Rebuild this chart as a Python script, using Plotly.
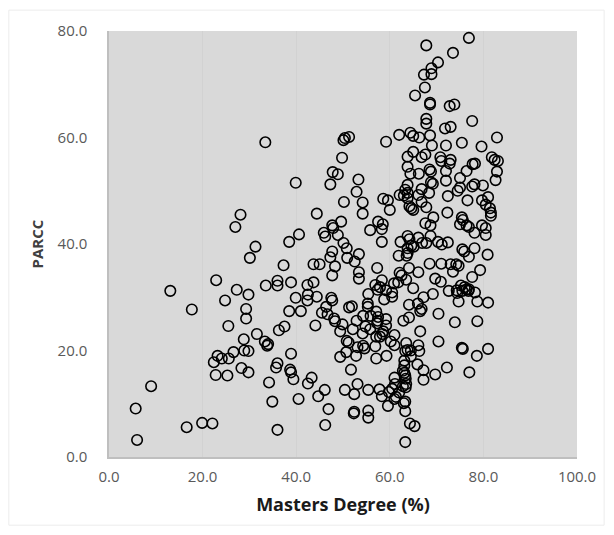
import plotly.graph_objects as go

masters = [
76.9,67.8,73.5,70.3,68.9,67.3,68.9,67.5,65.4,68.6,68.6,72.8,73.8,67.8,67.8,77.6,71.8,73.0,62.0,64.4,65.0,66.3,68.6,82.9,33.4,50.1,50.4,51.3,59.2,
75.4,69.0,72.0,79.6,65.0,67.6,63.8,66.8,70.8,73.0,71.0,81.8,82.4,83.1,49.8,72.8,63.8,77.7,78.2,68.5,68.8,76.4,82.9,66.2,64.4,72.0,47.8,48.9,75.0,53.3,82.6,72.0,68.8,69.2,39.9,47.3,77.6,78.1,79.9,63.8,75.0,66.8,
63.3,63.8,68.4,74.5,52.9,62.1,63.0,66.1,72.4,81.0,63.8,58.6,59.6,79.7,76.6,50.2,66.8,54.2,80.5,64.2,67.8,64.6,65.0,60.0,81.4,81.6,72.3,54.2,44.4,28.1,81.6,75.4,75.6,69.3,57.5,49.6,67.6,58.5,75.0,68.7,76.4,79.7,76.9,47.7,80.5,27.0,47.9,55.8,58.3,45.9,78.1,40.6,46.2,48.9,80.5,68.7,63.8,66.1,64.2,38.5,58.3,50.1,62.3,66.9,67.8,70.3,71.1,72.4,
64.6,63.8,65.1,31.3,50.8,75.5,75.9,78.1,47.7,63.8,63.6,53.4,61.9,80.9,47.3,30.1,50.9,76.9,52.5,37.3,43.7,45.0,68.5,71.0,73.0,74.2,74.7,48.3,57.3,64.1,79.3,
73.5,66.1,53.4,62.1,62.5,47.7,77.6,53.4,69.7,58.3,63.5,61.8,70.9,22.9,36.0,38.9,43.7,60.9,42.4,56.9,33.5,36.0,75.2,57.9,76.0,65.0,76.4,76.9,74.3,57.4,27.3,13.1,72.6,75.5,76.8,59.2,60.5,78.2,69.2,29.8,55.4,74.4,42.5,60.5,67.2,
44.4,39.9,47.5,58.8,47.7,24.8,42.4,74.7,78.7,81.0,55.3,66.0,64.1,55.3,51.3,51.9,46.4,66.8,17.7,29.3,38.5,41.0,66.5,45.5,57.1,70.4,46.7,54.3,55.9,57.5,64.1,62.9,29.3,48.1,59.2,52.9,57.4,48.3,73.9,78.7,57.3,49.9,
25.5,44.1,59.2,54.8,37.5,55.8,36.3,49.4,52.1,66.5,58.6,54.2,58.4,31.6,61.0,57.1,57.9,28.8,60.2,50.8,51.2,70.4,33.3,63.5,61.0,34.0,33.8,54.3,56.9,66.1,53.1,54.6,75.4,75.6,81.0,63.8,64.5,63.3,
26.6,28.9,29.8,50.7,66.3,23.2,22.4,24.1,25.6,38.9,52.8,49.4,59.3,78.6,64.5,57.1,63.1,36.0,65.9,63.1,28.3,35.7,72.2,38.7,51.7,67.2,62.8,38.9,29.8,63.1,77.0,22.8,25.3,69.7,63.3,
43.3,61.0,39.4,63.4,67.2,34.2,42.5,53.1,61.1,63.5,62.8,9.0,63.4,60.5,46.1,50.4,55.4,57.8,59.8,62.0,52.4,58.3,44.7,61.3,61.0,40.5,34.9,63.3,63.0,
59.6,5.7,46.9,55.4,63.3,52.4,52.3,55.4,64.3,19.9,22.1,46.2,65.3,16.6,36.0,6.0,63.3,
]

parcc = [
78.7,77.3,75.9,74.1,73.0,71.8,71.9,69.4,67.9,66.5,66.2,65.9,66.2,63.5,62.6,63.1,61.7,62.0,60.5,60.9,60.3,60.0,60.4,60.0,59.1,59.5,59.9,60.1,59.2,
59.0,58.5,58.5,58.3,57.3,56.8,56.4,56.3,56.3,55.8,55.6,56.3,55.8,55.6,56.2,55.1,54.5,55.0,55.1,54.0,53.6,53.7,53.6,53.2,53.2,53.7,53.5,53.1,52.4,52.1,52.0,51.9,51.6,51.3,51.5,51.2,50.8,51.2,51.0,51.1,50.6,50.3,
50.2,49.6,49.6,50.0,49.8,49.2,49.1,49.2,49.0,48.8,48.6,48.5,48.2,48.2,48.2,47.9,47.9,47.8,47.4,47.1,46.9,46.7,46.4,46.4,46.7,45.9,45.9,45.7,45.7,45.5,45.3,45.0,44.5,45.0,44.2,44.2,43.9,43.7,43.7,43.5,43.5,43.5,43.2,43.5,43.0,43.2,43.0,42.6,42.8,42.1,42.1,41.8,41.4,41.7,41.7,41.5,41.5,41.2,40.9,40.4,40.4,40.2,40.4,40.2,40.2,40.4,39.9,40.3,
39.7,39.2,39.5,39.5,39.2,39.0,38.6,39.2,38.6,38.3,37.8,38.1,37.8,38.0,37.5,37.4,37.4,37.6,36.7,36.0,36.2,36.2,36.3,36.3,36.2,36.2,35.9,35.8,35.5,35.5,35.1,
34.8,34.7,34.7,34.6,34.1,34.1,33.8,33.5,33.5,33.2,33.3,32.8,32.9,33.2,33.1,32.8,32.8,32.6,32.3,32.3,32.2,32.2,32.2,31.9,31.9,31.7,31.5,31.5,31.3,31.4,31.4,31.2,31.2,31.2,31.2,31.3,30.9,30.9,30.6,30.5,30.6,30.8,30.5,30.1,30.0,
30.1,29.9,29.9,29.6,29.4,29.4,29.4,29.2,29.2,29.0,28.8,28.8,28.6,28.2,28.1,28.3,28.2,27.8,27.7,27.8,27.4,27.4,27.4,27.1,27.3,26.9,26.8,26.5,26.5,26.3,26.2,25.6,26.0,26.0,25.9,25.6,25.6,25.5,25.3,25.5,25.1,24.9,
24.6,24.7,24.7,24.5,24.5,24.0,23.8,23.6,24.0,23.6,23.6,23.2,23.1,23.1,22.9,22.6,22.6,22.1,21.7,21.8,21.5,21.7,21.7,21.4,21.0,21.2,20.9,20.9,20.8,21.0,20.6,20.4,20.5,20.3,20.3,20.1,20.0,19.9,
19.7,20.0,19.9,19.7,19.9,19.0,17.8,18.5,18.5,19.4,19.0,18.8,19.0,19.0,18.9,18.5,18.1,17.6,17.4,17.2,16.7,16.8,16.8,16.4,16.4,16.3,16.2,15.9,15.9,15.8,15.9,15.4,15.3,15.5,15.3,
14.9,14.9,14.6,14.7,14.5,14.0,13.8,13.7,13.7,13.7,13.3,13.3,13.1,12.8,12.6,12.6,12.6,12.7,12.2,12.1,11.8,11.4,11.4,11.3,10.9,10.9,10.4,10.4,10.1,
9.6,9.1,9.0,8.7,8.6,8.5,8.2,7.4,6.3,6.4,6.3,6.0,5.8,5.6,5.1,3.2,2.8,
]

x_ticks = [0, 20, 40, 60, 80, 100]
y_ticks = [0, 20, 40, 60, 80]

fig = go.Figure()
fig.add_trace(go.Scatter(
    x=masters, y=parcc, mode="markers",
    marker=dict(symbol="circle-open", size=10.5, color="#000000", line=dict(width=1.6, color="#000000")),
    showlegend=False, hoverinfo="skip",
))

font_family = "Open Sans, Liberation Sans, sans-serif"

fig.update_layout(
    width=606, height=527,
    margin=dict(l=101, r=37, t=23, b=78),
    paper_bgcolor="#ffffff",
    plot_bgcolor="#d9d9d9",
    font=dict(family=font_family, size=15, color="#595959"),
    xaxis=dict(
        range=[0, 100], tickvals=x_ticks, ticktext=[f"{v:.1f}" for v in x_ticks],
        showgrid=True, gridcolor="#d2d2d2", gridwidth=1,
        zeroline=False, showline=True, linecolor="#bfbfbf", linewidth=1.5,
        ticks="", ticklabelstandoff=5,
        title=dict(text="<b>Masters Degree (%)</b>", font=dict(size=18, color="#1a1a1a"), standoff=14),
        fixedrange=True,
    ),
    yaxis=dict(
        range=[0, 80], tickvals=y_ticks, ticktext=[f"{v:.1f}" for v in y_ticks],
        showgrid=False, zeroline=False, showline=True, linecolor="#bfbfbf", linewidth=1.5,
        ticks="", ticklabelstandoff=17,
        title=dict(text="<b>PARCC</b>", font=dict(size=15, color="#404040"), standoff=10),
        fixedrange=True,
    ),
    shapes=[dict(
        type="rect", xref="paper", yref="paper",
        x0=-0.214, x1=1.058, y0=-0.16, y1=1.049,
        line=dict(color="#ececec", width=1), fillcolor="rgba(0,0,0,0)", layer="below",
    )],
)

fig.write_html("out.html")
